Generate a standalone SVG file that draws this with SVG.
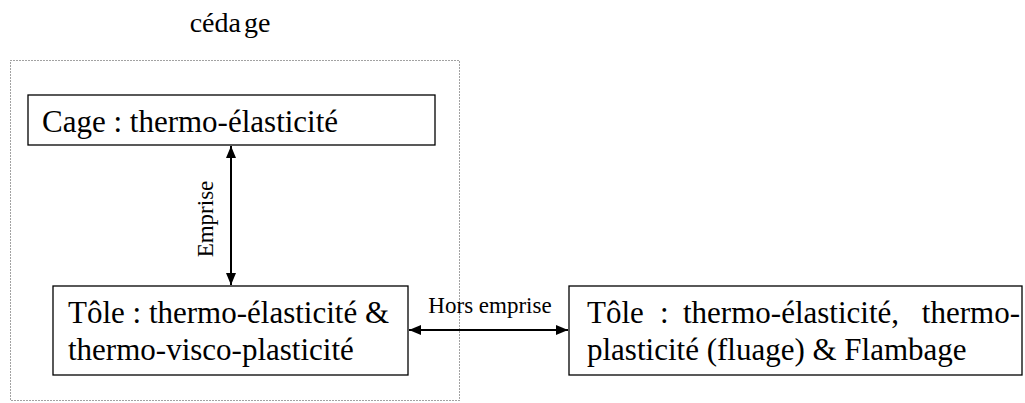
<svg xmlns="http://www.w3.org/2000/svg" width="1025" height="403" viewBox="0 0 1025 403">
<style>
text{font-family:"Liberation Serif","Times New Roman",serif;fill:#000}
.box{fill:#fff;stroke:#000;stroke-width:1.3}
.big{font-size:31px}
.lbl{font-size:23px}
.conn{stroke:#000;stroke-width:2;fill:none}
.frame{fill:none;stroke:#444;stroke-width:1;stroke-dasharray:1 2}
</style>
<defs>
<marker id="ah" viewBox="0 0 12 10" refX="12" refY="5" markerWidth="12" markerHeight="10" markerUnits="userSpaceOnUse" orient="auto-start-reverse">
<path d="M0,0 L12,5 L0,10 z" fill="#000"/>
</marker>
</defs>
<rect width="1025" height="403" fill="#fff"/>
<g id="frame">
<rect class="frame" x="10.5" y="60.5" width="449" height="340"/>
<text x="230" y="32" font-size="28" text-anchor="middle">céda<tspan dx="3">ge</tspan></text>
</g>
<g id="cage">
<rect class="box" x="28" y="95" width="407" height="50"/>
<text class="big" x="42" y="132">Cage : thermo-élasticité</text>
</g>
<g id="tole1">
<rect class="box" x="53" y="286" width="355" height="89"/>
<text class="big" x="68" y="323">Tôle : thermo-élasticité &amp;</text>
<text class="big" x="68" y="360">thermo-visco-plasticité</text>
</g>
<g id="tole2">
<rect class="box" x="569" y="286" width="453" height="89"/>
<text class="big" y="323"><tspan x="587">Tôle</tspan><tspan x="660">:</tspan><tspan x="683">thermo-élasticité,</tspan></text>
<text class="big" x="1020" y="323" text-anchor="end">thermo-</text>
<text class="big" x="587" y="360">plasticité (fluage) &amp; Flambage</text>
</g>
<g id="connectors">
<line class="conn" x1="231" y1="146" x2="231" y2="285" marker-start="url(#ah)" marker-end="url(#ah)"/>
<text class="lbl" transform="translate(213,219) rotate(-90)" text-anchor="middle">Emprise</text>
<line class="conn" x1="409" y1="330" x2="568" y2="330" marker-start="url(#ah)" marker-end="url(#ah)"/>
<text class="lbl" x="490" y="313" text-anchor="middle">Hors emprise</text>
</g>
</svg>
